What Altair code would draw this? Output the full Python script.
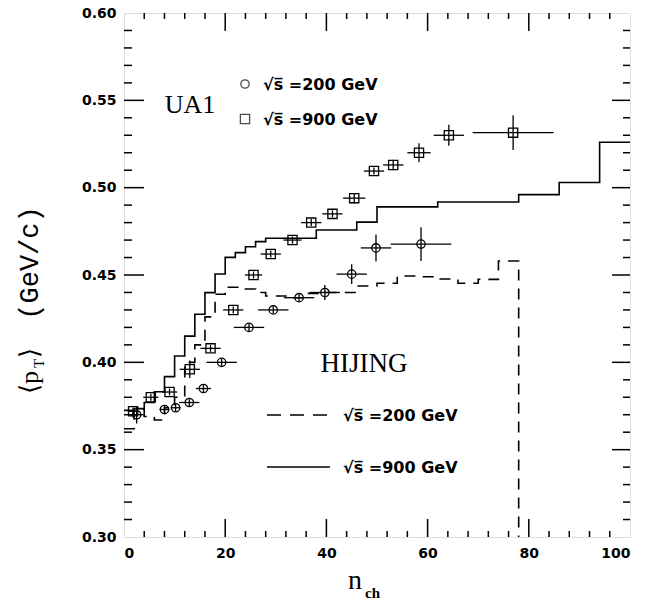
import altair as alt
import pandas as pd

# UA1 <pT> vs n_ch, sqrt(s)=200 GeV (circles)
c_x = [2.5, 8.0, 10.2, 12.9, 15.7, 19.3, 24.7, 29.5, 34.6, 39.7, 45.0, 49.8, 58.7]
c_y = [0.370, 0.373, 0.374, 0.377, 0.385, 0.400, 0.420, 0.430, 0.437, 0.440, 0.4505, 0.4655, 0.4677]
c_xerr = [1.5, 1.0, 1.0, 2.0, 1.5, 3.0, 3.0, 3.0, 3.0, 3.0, 3.0, 3.0, 6.0]
c_yerr = [0.005, 0.002, 0.002, 0.002, 0.002, 0.002, 0.002, 0.002, 0.002, 0.0043, 0.0057, 0.0077, 0.0097]

# UA1 <pT> vs n_ch, sqrt(s)=900 GeV (squares)
s_x = [1.8, 5.3, 9.0, 13.0, 17.1, 21.6, 25.6, 29.0, 33.3, 37.0, 41.2, 45.5, 49.4, 53.2, 58.3, 64.2, 76.9]
s_y = [0.372, 0.380, 0.383, 0.396, 0.408, 0.430, 0.450, 0.462, 0.470, 0.480, 0.485, 0.494, 0.5095, 0.513, 0.520, 0.530, 0.5315]
s_xerr = [1.0, 1.5, 1.5, 2.0, 2.0, 2.0, 1.7, 2.0, 1.8, 2.0, 2.0, 2.2, 2.0, 2.0, 2.3, 3.0, 8.0]
s_yerr = [0.002, 0.002, 0.002, 0.005, 0.002, 0.002, 0.002, 0.002, 0.002, 0.002, 0.002, 0.003, 0.002, 0.003, 0.0055, 0.006, 0.010]

# HIJING histograms: left bin edges and bin contents (last entry closes the histogram)
h200_edges = [0, 2, 4, 6, 8, 10, 12, 14, 16, 18, 20, 24, 26, 28, 32, 36, 40, 46, 50, 54, 58, 62, 66, 70, 74, 78]
h200_vals = [0.362, 0.373, 0.369, 0.367, 0.374, 0.380, 0.400, 0.410, 0.426, 0.439, 0.443, 0.442, 0.440, 0.438,
             0.437, 0.4395, 0.440, 0.4437, 0.4453, 0.4494, 0.449, 0.4477, 0.4453, 0.4475, 0.458, 0.300]
h900_edges = [0, 2, 4, 6, 8, 10, 12, 14, 16, 18, 20, 22, 24, 26, 28, 38, 46, 50, 62, 78, 86, 94, 100]
h900_vals = [0.3725, 0.3735, 0.377, 0.3832, 0.3918, 0.4036, 0.415, 0.4275, 0.4399, 0.4506, 0.4601, 0.4628,
             0.4662, 0.4691, 0.4710, 0.4758, 0.4803, 0.489, 0.4918, 0.4960, 0.503, 0.526, 0.526]

# axis ticks
x_labels = [0, 20, 40, 60, 80, 100]
y_labels = [0.30, 0.35, 0.40, 0.45, 0.50, 0.55, 0.60]
x_major = [20, 40, 60, 80]
x_minor = [4, 8, 12, 16, 24, 28, 32, 36, 44, 48, 52, 56, 64, 68, 72, 76, 84, 88, 92, 96]
y_major = [0.35, 0.40, 0.45, 0.50, 0.55]
y_minor = [0.31, 0.32, 0.33, 0.34, 0.36, 0.37, 0.38, 0.39, 0.41, 0.42, 0.43, 0.44,
           0.46, 0.47, 0.48, 0.49, 0.51, 0.52, 0.53, 0.54, 0.56, 0.57, 0.58, 0.59]

W, H = 506, 524
SANS = "DejaVu Sans"
SERIF = "Liberation Serif"

xs = alt.Scale(domain=[0, 100], nice=False, zero=False)
ys = alt.Scale(domain=[0.30, 0.60], nice=False, zero=False)


def X(f, **kw):
    return alt.X(f, type="quantitative", scale=xs, **kw)


def Y(f, **kw):
    return alt.Y(f, type="quantitative", scale=ys, **kw)


circ = pd.DataFrame({"x": c_x, "y": c_y})
circ["xlo"] = [a - b for a, b in zip(c_x, c_xerr)]
circ["xhi"] = [a + b for a, b in zip(c_x, c_xerr)]
circ["ylo"] = [a - b for a, b in zip(c_y, c_yerr)]
circ["yhi"] = [a + b for a, b in zip(c_y, c_yerr)]

sq = pd.DataFrame({"x": s_x, "y": s_y})
sq["xlo"] = [a - b for a, b in zip(s_x, s_xerr)]
sq["xhi"] = [a + b for a, b in zip(s_x, s_xerr)]
sq["ylo"] = [a - b for a, b in zip(s_y, s_yerr)]
sq["yhi"] = [a + b for a, b in zip(s_y, s_yerr)]

h200 = pd.DataFrame({"x": h200_edges, "y": h200_vals})
h900 = pd.DataFrame({"x": h900_edges, "y": h900_vals})

# HIJING curves, carrying the label axes
line900 = alt.Chart(h900).mark_line(interpolate="step-after", color="black", strokeWidth=1.6).encode(
    x=X("x", axis=alt.Axis(values=x_labels, format="d", grid=False, domain=False, ticks=False,
                           labelFont=SANS, labelFontWeight="bold", labelFontSize=14, labelColor="black",
                           labelPadding=9, title=None)),
    y=Y("y", axis=alt.Axis(values=y_labels, format=".2f", grid=False, domain=False, ticks=False,
                           labelFont=SANS, labelFontWeight="bold", labelFontSize=14, labelColor="black",
                           labelPadding=8, title=None)),
)
line200 = alt.Chart(h200).mark_line(interpolate="step-after", color="black", strokeWidth=1.6,
                                    strokeDash=[11, 8]).encode(x=X("x"), y=Y("y"))

err_style = dict(color="black", strokeWidth=1.3)
layers = [line900, line200]
for df, shape, size in [(circ, "circle", 70), (sq, "square", 85)]:
    base = alt.Chart(df)
    layers.append(base.mark_rule(**err_style).encode(x=X("xlo"), x2="xhi", y=Y("y")))
    layers.append(base.mark_rule(**err_style).encode(x=X("x"), y=Y("ylo"), y2="yhi"))
    layers.append(base.mark_point(shape=shape, size=size, filled=False, color="black",
                                  strokeWidth=1.3, opacity=1).encode(x=X("x"), y=Y("y")))

# inward ticks on all four sides
tick = dict(color="black", strokeWidth=1.5)
layers += [
    alt.Chart(pd.DataFrame({"v": y_major})).mark_rule(**tick).encode(y=Y("v"), x=alt.value(0), x2=alt.value(20)),
    alt.Chart(pd.DataFrame({"v": y_minor})).mark_rule(**tick).encode(y=Y("v"), x=alt.value(0), x2=alt.value(8)),
    alt.Chart(pd.DataFrame({"v": y_major})).mark_rule(**tick).encode(y=Y("v"), x=alt.value(W), x2=alt.value(W - 18)),
    alt.Chart(pd.DataFrame({"v": y_minor})).mark_rule(**tick).encode(y=Y("v"), x=alt.value(W), x2=alt.value(W - 7)),
    alt.Chart(pd.DataFrame({"v": x_major})).mark_rule(**tick).encode(x=X("v"), y=alt.value(H), y2=alt.value(H - 18)),
    alt.Chart(pd.DataFrame({"v": x_minor})).mark_rule(**tick).encode(x=X("v"), y=alt.value(H), y2=alt.value(H - 6)),
    alt.Chart(pd.DataFrame({"v": x_major})).mark_rule(**tick).encode(x=X("v"), y=alt.value(0), y2=alt.value(18)),
    alt.Chart(pd.DataFrame({"v": x_minor})).mark_rule(**tick).encode(x=X("v"), y=alt.value(0), y2=alt.value(6)),
]

one = pd.DataFrame({"a": [0]})


def label(text, x, y, font=SANS, size=16, weight="bold", align="left", angle=0, baseline="middle"):
    return alt.Chart(one).mark_text(text=text, font=font, fontSize=size, fontWeight=weight, align=align,
                                    baseline=baseline, angle=angle, color="black").encode(
        x=alt.value(x), y=alt.value(y))


# UA1 key
layers += [
    label("UA1", 66, 92, font=SERIF, size=26, weight="normal", align="center"),
    alt.Chart(one).mark_point(shape="circle", size=70, color="black", strokeWidth=1.3).encode(
        x=alt.value(121), y=alt.value(71)),
    alt.Chart(one).mark_point(shape="square", size=85, color="black", strokeWidth=1.3).encode(
        x=alt.value(121), y=alt.value(106)),
    label("√s\u0305 =200  GeV", 139, 72),
    label("√s\u0305 =900  GeV", 139, 107),
]

# HIJING key
layers += [
    label("HIJING", 240, 351, font=SERIF, size=27, weight="normal", align="center"),
    alt.Chart(one).mark_rule(color="black", strokeWidth=1.6, strokeDash=[14, 9]).encode(
        x=alt.value(143), x2=alt.value(206), y=alt.value(402)),
    alt.Chart(one).mark_rule(color="black", strokeWidth=1.6).encode(
        x=alt.value(143), x2=alt.value(206), y=alt.value(454)),
    label("√s\u0305 =200  GeV", 219, 403),
    label("√s\u0305 =900  GeV", 219, 455),
]

# axis titles
layers += [
    label("n", 231, 568, font=SERIF, size=28, weight="normal", align="center"),
    label("ch", 241, 580, font=SERIF, size=15, weight="bold"),
    label("(GeV/c)", -94, 250, font="Liberation Mono", size=27, weight="normal", align="center", angle=270),
    label("⟨p", -94, 381, font=SERIF, size=26, weight="normal", align="left", angle=270),
    label("T", -85, 355, font=SERIF, size=15, weight="normal", align="left", angle=270),
    label("⟩", -94, 345, font=SERIF, size=26, weight="normal", align="left", angle=270),
]

chart = alt.layer(*layers).properties(
    width=W, height=H,
    autosize=alt.AutoSizeParams(type="none"),
    padding={"left": 124, "top": 13, "right": 17, "bottom": 68},
).configure_view(stroke="black", strokeWidth=2).configure(background="white")

chart.save("out.html", embed_options={"renderer": "svg", "actions": False})
